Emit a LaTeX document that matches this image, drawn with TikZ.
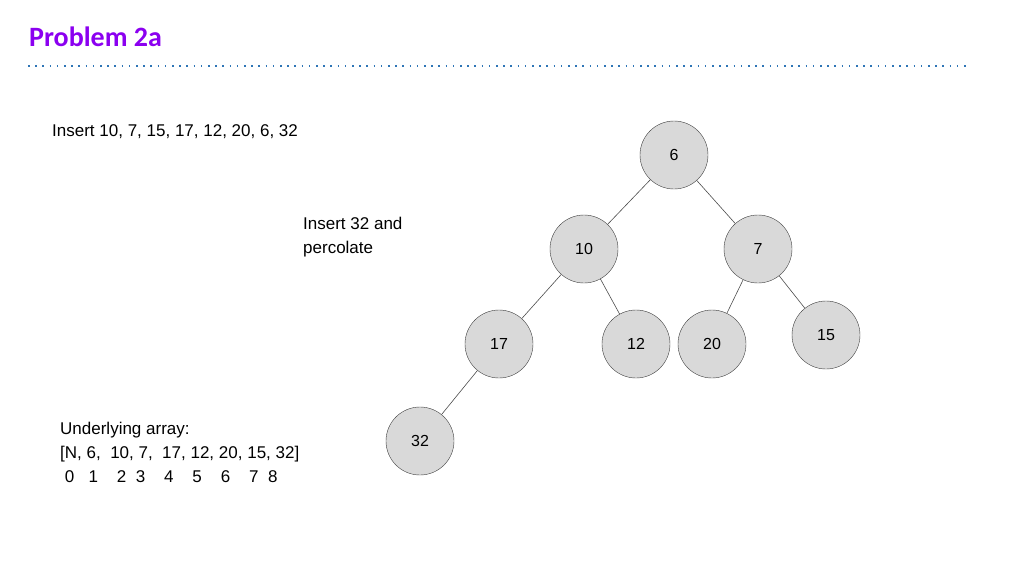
\documentclass[tikz,border=0pt]{standalone}
\usepackage{fontspec}
\setmainfont{Liberation Sans}
\newfontfamily\titlefont{Carlito}
\definecolor{ttl}{HTML}{8B00F0}
\definecolor{dotc}{HTML}{2E75B6}
\definecolor{nfill}{HTML}{D9D9D9}
\begin{document}
\begin{tikzpicture}[x=1pt,y=-1pt,
  hnode/.style={circle,draw=black!75,fill=nfill,minimum size=68pt,inner sep=0pt,font=\fontsize{16}{18}\selectfont},
  edge/.style={draw=black!70,line width=0.6pt},
  txt/.style={anchor=north west,inner sep=0pt,align=left,font=\fontsize{17}{24}\selectfont}]
\useasboundingbox (0,0) rectangle (1024,576);
\node[anchor=west,inner sep=0pt,text=ttl,font=\titlefont\bfseries\fontsize{28}{30}\selectfont] (title) at (29,37) {Problem 2a};
\draw[dotc,line width=1.6pt,dash pattern=on 1.6pt off 5.6pt] (28,66) -- (968,66);
\node[txt] (ins) at (52,124) {Insert 10, 7, 15, 17, 12, 20, 6, 32};
\node[txt] (perc) at (303,217) {Insert 32 and\\percolate};
\node[txt] (arr) at (60,422) {Underlying array:\\{}[N, 6,\ \ 10, 7,\ \ 17, 12, 20, 15, 32]\\\ 0\ \ \ 1\ \ \ \ 2\ \ 3\ \ \ \ 4\ \ \ \ 5\ \ \ \ 6\ \ \ \ 7\ \ 8};
\node[hnode] (n6) at (674,155) {6};
\node[hnode] (n10) at (584,249) {10};
\node[hnode] (n7) at (758,249) {7};
\node[hnode] (n17) at (499,344) {17};
\node[hnode] (n12) at (636,344) {12};
\node[hnode] (n20) at (712,344) {20};
\node[hnode] (n15) at (826,335) {15};
\node[hnode] (n32) at (420,441) {32};
\draw[edge] (n6) -- (n10);
\draw[edge] (n6) -- (n7);
\draw[edge] (n10) -- (n17);
\draw[edge] (n10) -- (n12);
\draw[edge] (n7) -- (n20);
\draw[edge] (n7) -- (n15);
\draw[edge] (n17) -- (n32);
\end{tikzpicture}
\end{document}
